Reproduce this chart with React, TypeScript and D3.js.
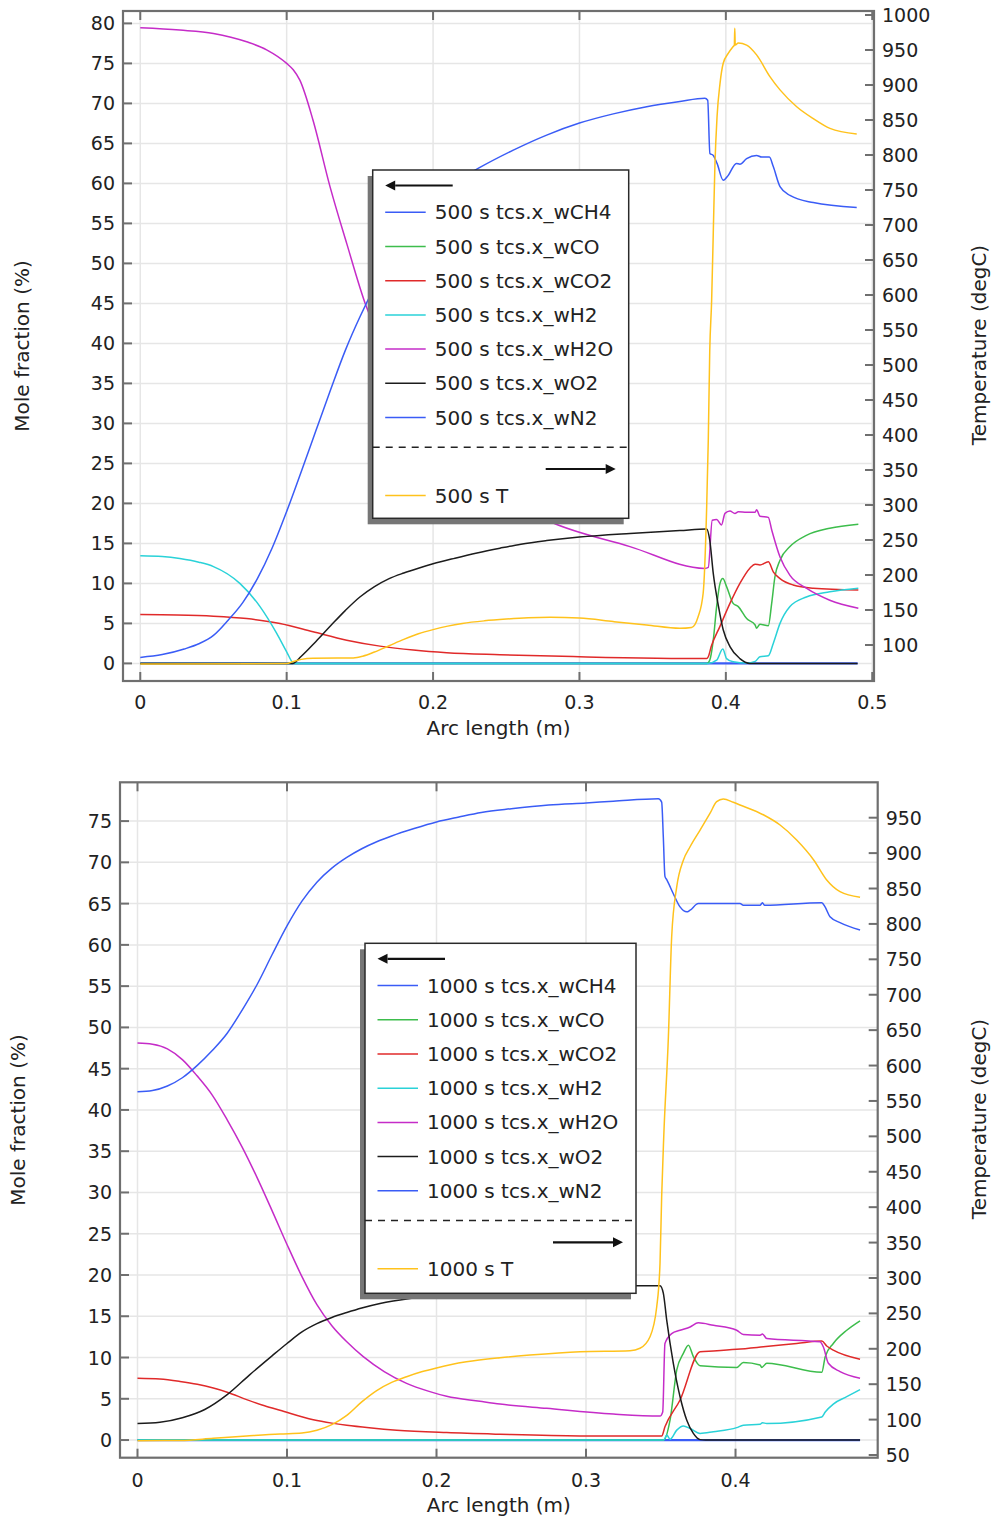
import React from "react";
import * as d3 from "d3";

type Pt = [number, number];

const SPECIES = ["wCH4", "wCO", "wCO2", "wH2", "wH2O", "wO2", "wN2"];
const SPECIES_COLORS = ["#3a5cf6", "#3dbd4c", "#e02a2a", "#2ad2d8", "#c52cc8", "#1c1c1c", "#3a5cf6"];
const T_COLOR = "#ffc21c";

const LEFT_TICKS_500 = d3.range(0, 81, 5);
const RIGHT_TICKS_500 = d3.range(100, 1001, 50);
const X_TICKS_500 = [0, 0.1, 0.2, 0.3, 0.4, 0.5];
const LEFT_TICKS_1000 = d3.range(0, 76, 5);
const RIGHT_TICKS_1000 = d3.range(50, 951, 50);
const X_TICKS_1000 = [0, 0.1, 0.2, 0.3, 0.4];

// ---- 500 s ----
const ch4_500: Pt[] = [[0, 0], [0.49, 0]];
const co_500: Pt[] = [[0, 0], [0.387, 0], [0.389, 0.4], [0.3914, 2.9], [0.3937, 7.1], [0.396, 10], [0.3979, 10.6], [0.4005, 9.6], [0.405, 7.5], [0.4085, 7.1], [0.4142, 5.6], [0.42, 4.8], [0.421, 4.4], [0.4233, 4.9], [0.429, 4.7], [0.4313, 7.5], [0.4335, 10.8], [0.437, 12.9], [0.4438, 14.6], [0.455, 16.0], [0.471, 16.9], [0.4905, 17.4]];
const co2_500: Pt[] = [[0, 6.1], [0.025, 6.05], [0.05, 5.9], [0.0727, 5.6], [0.0954, 5.0], [0.118, 3.95], [0.141, 2.9], [0.1637, 2.16], [0.1865, 1.66], [0.2093, 1.33], [0.2457, 1.08], [0.3, 0.83], [0.3869, 0.6], [0.388, 0.83], [0.39, 2.1], [0.3959, 4.6], [0.4028, 7.5], [0.4096, 10], [0.4164, 11.9], [0.42, 12.4], [0.4233, 12.3], [0.429, 12.7], [0.4324, 11.45], [0.437, 10.6], [0.446, 9.8], [0.4597, 9.4], [0.4905, 9.16]];
const h2_500: Pt[] = [[0, 13.45], [0.015, 13.35], [0.027, 13.1], [0.04, 12.65], [0.05, 12.1], [0.068, 10], [0.0818, 7.1], [0.0932, 3.75], [0.1, 1.45], [0.1045, 0.05], [0.106, 0], [0.388, 0], [0.3937, 0.4], [0.3979, 1.8], [0.4005, 0.6], [0.405, 0.2], [0.4142, 0.05], [0.42, 0.25], [0.4233, 0.83], [0.429, 0.95], [0.4324, 2.5], [0.437, 5.0], [0.4438, 7.1], [0.455, 8.3], [0.471, 8.95], [0.4905, 9.4]];
const h2o_500: Pt[] = [[0, 79.45], [0.027, 79.16], [0.05, 78.75], [0.0727, 77.7], [0.0863, 76.7], [0.1, 75], [0.1045, 74.2], [0.109, 72.9], [0.118, 67.9], [0.1296, 59.6], [0.141, 52.5], [0.154, 44.8], [0.17, 38.5], [0.19, 32], [0.21, 27], [0.235, 22.5], [0.26, 19.5], [0.28, 17.7], [0.3345, 14.6], [0.3857, 11.87], [0.388, 12], [0.3907, 17.9], [0.3937, 18.0], [0.397, 17.3], [0.3994, 18.75], [0.4028, 19.04], [0.4062, 18.75], [0.4085, 18.95], [0.4142, 18.9], [0.42, 18.9], [0.421, 19.2], [0.4233, 18.4], [0.429, 18.25], [0.4313, 16.7], [0.437, 13.3], [0.4438, 11.0], [0.455, 9.4], [0.471, 7.9], [0.4905, 6.9]];
const o2_500: Pt[] = [[0, 0], [0.104, 0], [0.11, 0.9], [0.12, 2.75], [0.13, 4.7], [0.14, 6.6], [0.15, 8.3], [0.16, 9.6], [0.17, 10.6], [0.18, 11.3], [0.19, 11.9], [0.2, 12.45], [0.215, 13.15], [0.23, 13.8], [0.2457, 14.4], [0.26, 14.9], [0.2776, 15.35], [0.3, 15.8], [0.3345, 16.25], [0.3686, 16.6], [0.3869, 16.8], [0.389, 15.4], [0.3914, 11.25], [0.395, 7.1], [0.3982, 4.2], [0.4028, 2.1], [0.4096, 0.6], [0.4164, 0], [0.49, 0]];
const n2_500: Pt[] = [[0, 0.75], [0.015, 1.1], [0.03, 1.8], [0.04, 2.45], [0.05, 3.5], [0.06, 5.4], [0.07, 7.6], [0.08, 10.6], [0.09, 14.4], [0.1, 19.0], [0.11, 24.0], [0.12, 29.1], [0.13, 34.2], [0.14, 39.1], [0.15, 43.3], [0.16, 47.0], [0.17, 50.2], [0.18, 53.0], [0.19, 55.4], [0.2, 57.4], [0.21, 59.2], [0.22, 60.7], [0.232, 62.0], [0.2548, 64.16], [0.2776, 66.04], [0.3, 67.54], [0.3231, 68.69], [0.3459, 69.59], [0.3686, 70.24], [0.3857, 70.64], [0.3876, 70.4], [0.3891, 63.75], [0.3914, 63.5], [0.394, 62.5], [0.3982, 60.4], [0.4016, 61.0], [0.4072, 62.5], [0.4096, 62.4], [0.4142, 63.1], [0.421, 63.5], [0.4245, 63.3], [0.4297, 63.3], [0.4324, 62.1], [0.437, 59.6], [0.4438, 58.5], [0.4597, 57.6], [0.4894, 57.0]];
const temp_500: Pt[] = [[0, 73], [0.1, 73.5], [0.1045, 76.5], [0.11, 79.5], [0.118, 81], [0.1455, 81.5], [0.152, 84], [0.16, 90], [0.17, 99], [0.18, 108], [0.19, 116], [0.2, 122], [0.21, 127], [0.22, 130.8], [0.235, 134.5], [0.25, 137], [0.265, 138.8], [0.28, 139.5], [0.3, 138.5], [0.3231, 133.5], [0.3459, 128.6], [0.3686, 123.8], [0.3766, 125], [0.381, 140], [0.3845, 174], [0.3869, 297], [0.388, 393], [0.389, 520], [0.3903, 593], [0.3914, 688], [0.3925, 783], [0.394, 855], [0.396, 902], [0.3982, 931], [0.4016, 945], [0.405, 955], [0.4058, 957], [0.4061, 981], [0.4064, 957], [0.4085, 960], [0.4142, 957], [0.421, 943], [0.4301, 912], [0.437, 893], [0.4484, 869], [0.4597, 852], [0.4711, 838], [0.4894, 830]];

// ---- 1000 s ----
const ch4_1000: Pt[] = [[0, 0], [0.4833, 0]];
const co_1000: Pt[] = [[0, 0], [0.352, 0], [0.3562, 2.4], [0.3607, 8.5], [0.3651, 10.5], [0.3685, 11.5], [0.3718, 10.1], [0.3763, 9.0], [0.4008, 8.8], [0.4052, 9.4], [0.4164, 9.1], [0.4175, 8.8], [0.4209, 9.3], [0.4577, 8.2], [0.46, 10.1], [0.4654, 11.7], [0.4744, 13.3], [0.4833, 14.45]];
const co2_1000: Pt[] = [[0, 7.5], [0.015, 7.4], [0.0284, 7.1], [0.04, 6.75], [0.0507, 6.3], [0.06, 5.8], [0.073, 4.9], [0.085, 4.15], [0.0953, 3.6], [0.1176, 2.45], [0.13, 2.05], [0.14, 1.8], [0.155, 1.5], [0.1734, 1.2], [0.2068, 0.9], [0.2425, 0.7], [0.296, 0.5], [0.3506, 0.48], [0.3528, 1.6], [0.3629, 4.85], [0.3763, 10.7], [0.3852, 10.8], [0.4008, 11.0], [0.4186, 11.3], [0.4409, 11.7], [0.4577, 12.0], [0.461, 11.4], [0.4654, 10.9], [0.4833, 9.8]];
const h2_1000: Pt[] = [[0, 0], [0.352, 0], [0.354, 0.6], [0.3562, 0.1], [0.3607, 1.2], [0.3651, 1.7], [0.3696, 1.4], [0.3763, 0.8], [0.3852, 1.0], [0.4008, 1.5], [0.4052, 1.8], [0.4164, 1.9], [0.418, 2.1], [0.4209, 2.0], [0.4577, 2.8], [0.46, 3.4], [0.4654, 4.36], [0.4744, 5.25], [0.4833, 6.1]];
const h2o_1000: Pt[] = [[0, 48.1], [0.01, 47.95], [0.02, 47.4], [0.03, 46.1], [0.04, 44.1], [0.05, 41.8], [0.06, 38.8], [0.07, 35.5], [0.08, 31.8], [0.09, 27.8], [0.1, 23.7], [0.11, 19.8], [0.12, 16.4], [0.13, 13.85], [0.14, 11.9], [0.151, 10.1], [0.165, 8.3], [0.18, 6.87], [0.195, 5.9], [0.2068, 5.3], [0.2291, 4.7], [0.2425, 4.36], [0.2737, 3.84], [0.3183, 3.15], [0.3495, 2.9], [0.3513, 3.4], [0.3528, 11.7], [0.3573, 12.9], [0.3629, 13.3], [0.3696, 13.7], [0.3751, 14.2], [0.3852, 13.9], [0.4008, 13.3], [0.4052, 12.8], [0.4164, 12.7], [0.418, 12.85], [0.4209, 12.3], [0.4565, 11.9], [0.4587, 11.3], [0.4621, 9.3], [0.4699, 8.3], [0.4833, 7.5]];
const o2_1000: Pt[] = [[0, 2.0], [0.015, 2.15], [0.03, 2.7], [0.045, 3.7], [0.06, 5.5], [0.075, 7.9], [0.09, 10.2], [0.1, 11.7], [0.11, 13.1], [0.12, 14.1], [0.13, 14.85], [0.14, 15.45], [0.15, 16.0], [0.1622, 16.55], [0.1845, 17.2], [0.22, 17.8], [0.26, 18.2], [0.3, 18.5], [0.334, 18.7], [0.3495, 18.7], [0.3517, 17.8], [0.354, 14.5], [0.3584, 9.3], [0.3629, 5.25], [0.3674, 2.4], [0.3718, 0.8], [0.3763, 0.05], [0.38, 0], [0.4833, 0]];
const n2_1000: Pt[] = [[0, 42.2], [0.01, 42.35], [0.02, 42.9], [0.03, 43.9], [0.04, 45.4], [0.05, 47.2], [0.06, 49.3], [0.07, 52.1], [0.08, 55.2], [0.09, 58.8], [0.1, 62.3], [0.11, 65.3], [0.12, 67.6], [0.13, 69.3], [0.14, 70.6], [0.15, 71.65], [0.16, 72.5], [0.17, 73.2], [0.185, 74.1], [0.2, 74.9], [0.215, 75.5], [0.23, 76.05], [0.25, 76.5], [0.275, 76.95], [0.3, 77.2], [0.3183, 77.4], [0.3484, 77.7], [0.3506, 77.3], [0.3517, 73.1], [0.3528, 68.3], [0.354, 67.9], [0.3584, 66.2], [0.3629, 64.6], [0.3674, 64.0], [0.3696, 64.2], [0.3751, 65.0], [0.403, 65.0], [0.4052, 64.8], [0.4164, 64.8], [0.418, 65.1], [0.4195, 64.8], [0.4577, 65.1], [0.4599, 64.6], [0.4632, 63.4], [0.4699, 62.7], [0.4833, 61.8]];
const temp_1000: Pt[] = [[0, 70.2], [0.0284, 70.5], [0.0507, 73.6], [0.073, 76.8], [0.0953, 79.7], [0.11, 81], [0.12, 85], [0.13, 93], [0.14, 106], [0.15, 125], [0.16, 141], [0.17, 152.5], [0.18, 160.6], [0.19, 167.5], [0.2, 173], [0.21, 177.8], [0.22, 181.6], [0.2425, 187.4], [0.2625, 191.2], [0.296, 195.9], [0.3294, 197.3], [0.3361, 200.7], [0.3428, 217], [0.3473, 259.4], [0.3495, 320.7], [0.3506, 414.8], [0.352, 500], [0.3551, 640.7], [0.3573, 782], [0.3607, 852.6], [0.3651, 890], [0.3696, 909], [0.3763, 932.6], [0.3829, 956], [0.3874, 972.6], [0.3918, 976.4], [0.3985, 971.8], [0.403, 968], [0.4189, 953.8], [0.4298, 939.7], [0.4409, 918.5], [0.4524, 890], [0.461, 862], [0.4699, 845.5], [0.4833, 837.6]];

const FONT = "'DejaVu Sans', Verdana, sans-serif";
const TXT = "#222";
const FRAME = "#6f6f6f";
const GRID = "#e6e6e6";
const FS_TICK = 19;
const FS = 20;

type ChartProps = {
  id: string;
  left: number; right: number; top: number; bottom: number;
  xDomain: [number, number];
  yDomain: [number, number];
  tDomain: [number, number];
  xTicks: number[]; yTicks: number[]; tTicks: number[];
  species: Pt[][];
  temp: Pt[];
  prefix: string;
  legend: { x: number; y: number; w: number; h: number };
  yTitleX: number; tTitleX: number; xTitleY: number; xLabelY: number;
};

function Arrow({ x1, x2, y, dir }: { x1: number; x2: number; y: number; dir: "left" | "right" }) {
  const tip = dir === "left" ? x1 : x2;
  const base = dir === "left" ? tip + 10 : tip - 10;
  return (
    <g>
      <line x1={dir === "left" ? base : x1} x2={dir === "left" ? x2 : base} y1={y} y2={y} stroke="#111" strokeWidth={2.2} />
      <path d={`M${tip},${y} L${base},${y - 5} L${base},${y + 5} Z`} fill="#111" />
    </g>
  );
}

function Legend({ x, y, w, h, prefix }: { x: number; y: number; w: number; h: number; prefix: string }) {
  const rowY = (i: number) => y + 42.3 + i * 34.2;
  return (
    <g fontFamily={FONT} fontSize={FS} fill={TXT}>
      <rect x={x - 5} y={y + 6} width={w} height={h} fill="#767676" />
      <rect x={x} y={y} width={w} height={h} fill="#fff" stroke="#2a2a2a" strokeWidth={1.5} />
      <Arrow x1={x + 12.5} x2={x + 80} y={y + 15.5} dir="left" />
      {SPECIES.map((s, i) => (
        <g key={s}>
          <line x1={x + 12.5} x2={x + 53} y1={rowY(i)} y2={rowY(i)} stroke={SPECIES_COLORS[i]} strokeWidth={1.5} />
          <text x={x + 62} y={rowY(i) + 7}>{`${prefix} tcs.x_${s}`}</text>
        </g>
      ))}
      <line x1={x} x2={x + w} y1={y + 277.3} y2={y + 277.3} stroke="#222" strokeWidth={1.5} strokeDasharray="7,6" />
      <Arrow x1={x + w - 83} x2={x + w - 13} y={y + 299} dir="right" />
      <line x1={x + 12.5} x2={x + 53} y1={y + 325.5} y2={y + 325.5} stroke={T_COLOR} strokeWidth={1.5} />
      <text x={x + 62} y={y + 325.5 + 7}>{`${prefix} T`}</text>
    </g>
  );
}

function Chart(p: ChartProps) {
  const x = d3.scaleLinear().domain(p.xDomain).range([p.left, p.right]);
  const y = d3.scaleLinear().domain(p.yDomain).range([p.bottom, p.top]);
  const t = d3.scaleLinear().domain(p.tDomain).range([p.bottom, p.top]);
  const lineY = d3.line<Pt>().x((d) => x(d[0])).y((d) => y(d[1])).curve(d3.curveMonotoneX);
  const lineT = d3.line<Pt>().x((d) => x(d[0])).y((d) => t(d[1])).curve(d3.curveMonotoneX);
  const clipId = `clip-${p.id}`;
  const fmtX = (v: number) => (v === 0 ? "0" : d3.format(".1f")(v));
  return (
    <g>
      <defs>
        <clipPath id={clipId}>
          <rect x={p.left} y={p.top} width={p.right - p.left} height={p.bottom - p.top} />
        </clipPath>
      </defs>
      {p.xTicks.map((v) => (
        <line key={`gx${v}`} x1={x(v)} x2={x(v)} y1={p.top} y2={p.bottom} stroke={GRID} strokeWidth={1.5} />
      ))}
      {p.yTicks.map((v) => (
        <line key={`gy${v}`} x1={p.left} x2={p.right} y1={y(v)} y2={y(v)} stroke={GRID} strokeWidth={1.5} />
      ))}
      <g clipPath={`url(#${clipId})`} fill="none" strokeWidth={1.5} strokeLinejoin="round">
        {p.species.map((s, i) => (
          <path key={i} d={lineY(s) || ""} stroke={SPECIES_COLORS[i]} strokeWidth={i === 0 ? 2.2 : 1.5} />
        ))}
        <path d={lineT(p.temp) || ""} stroke={T_COLOR} />
      </g>
      <g stroke={FRAME} strokeWidth={2}>
        {p.xTicks.map((v) => (
          <g key={`tx${v}`}>
            <line x1={x(v)} x2={x(v)} y1={p.bottom} y2={p.bottom - 9} />
            <line x1={x(v)} x2={x(v)} y1={p.top} y2={p.top + 9} />
          </g>
        ))}
        {p.yTicks.map((v) => (
          <line key={`ty${v}`} x1={p.left} x2={p.left + 9} y1={y(v)} y2={y(v)} />
        ))}
        {p.tTicks.map((v) => (
          <line key={`tt${v}`} x1={p.right} x2={p.right - 9} y1={t(v)} y2={t(v)} />
        ))}
      </g>
      <rect x={p.left} y={p.top} width={p.right - p.left} height={p.bottom - p.top} fill="none" stroke={FRAME} strokeWidth={2.2} />
      <g fontFamily={FONT} fontSize={FS_TICK} fill={TXT}>
        {p.xTicks.map((v) => (
          <text key={`lx${v}`} x={x(v)} y={p.xLabelY} textAnchor="middle" dominantBaseline="central">{fmtX(v)}</text>
        ))}
        {p.yTicks.map((v) => (
          <text key={`ly${v}`} x={p.left - 8} y={y(v)} textAnchor="end" dominantBaseline="central">{v}</text>
        ))}
        {p.tTicks.map((v) => (
          <text key={`lt${v}`} x={p.right + 8} y={t(v)} textAnchor="start" dominantBaseline="central">{v}</text>
        ))}
      </g>
      <g fontFamily={FONT} fontSize={FS} fill={TXT}>
        <text x={(p.left + p.right) / 2} y={p.xTitleY} textAnchor="middle" dominantBaseline="central">Arc length (m)</text>
        <text transform={`translate(${p.yTitleX},${(p.top + p.bottom) / 2}) rotate(-90)`} textAnchor="middle" dominantBaseline="central">Mole fraction (%)</text>
        <text transform={`translate(${p.tTitleX},${(p.top + p.bottom) / 2 - 1}) rotate(-90)`} textAnchor="middle" dominantBaseline="central">Temperature (degC)</text>
      </g>
      <Legend {...p.legend} prefix={p.prefix} />
    </g>
  );
}

export default function App() {
  return (
    <svg width={991} height={1519} style={{ position: "absolute", left: 0, top: 0, display: "block", background: "#fff" }}>
      <rect x={0} y={0} width={991} height={1519} fill="#fff" />
      <Chart
        id="c500"
        left={123} right={874} top={11} bottom={681}
        xDomain={[-0.0118, 0.5012]}
        yDomain={[-2.2, 81.55]}
        tDomain={[48.6, 1005.7]}
        xTicks={X_TICKS_500} yTicks={LEFT_TICKS_500} tTicks={RIGHT_TICKS_500}
        species={[ch4_500, co_500, co2_500, h2_500, h2o_500, o2_500, n2_500]}
        temp={temp_500}
        prefix="500 s"
        legend={{ x: 372.7, y: 170, w: 256, h: 348.3 }}
        yTitleX={22} tTitleX={979} xTitleY={728} xLabelY={702}
      />
      <Chart
        id="c1000"
        left={120} right={877.7} top={782.3} bottom={1457.7}
        xDomain={[-0.0117, 0.4951]}
        yDomain={[-2.14, 79.7]}
        tDomain={[46.2, 1000]}
        xTicks={X_TICKS_1000} yTicks={LEFT_TICKS_1000} tTicks={RIGHT_TICKS_1000}
        species={[ch4_1000, co_1000, co2_1000, h2_1000, h2o_1000, o2_1000, n2_1000]}
        temp={temp_1000}
        prefix="1000 s"
        legend={{ x: 365, y: 943.3, w: 271, h: 350 }}
        yTitleX={18} tTitleX={979} xTitleY={1505} xLabelY={1479.5}
      />
    </svg>
  );
}
